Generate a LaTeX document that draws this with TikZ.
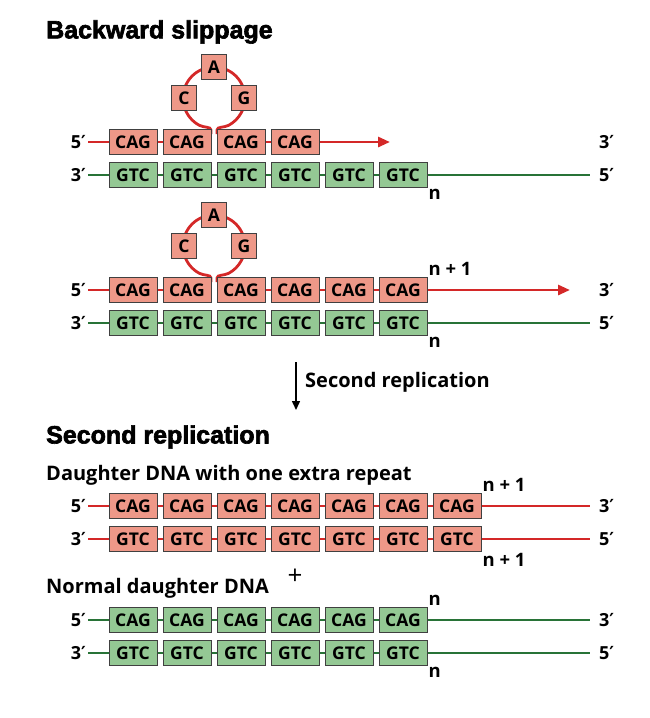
\documentclass[tikz,border=0pt]{standalone}
\usepackage{fontspec}
\setmainfont{Open Sans}
\newfontfamily\headfont{Liberation Sans Bold}[FakeBold=2.5]
\newfontfamily\primefont{DejaVu Sans}
\usetikzlibrary{positioning,backgrounds,arrows.meta}

\definecolor{cagfill}{RGB}{238,152,136}
\definecolor{gtcfill}{RGB}{148,200,148}
\definecolor{strandred}{RGB}{212,40,40}
\definecolor{strandgreen}{RGB}{40,115,55}

\newcommand{\pr}{{\primefont ′}}

\tikzset{
    repeatbox/.style={draw=black!75, line width=0.8pt, minimum width=48pt, minimum height=25pt,
        inner sep=0pt, font=\bfseries\fontsize{17.5}{17.5}\selectfont},
    cag/.style={repeatbox, fill=cagfill},
    gtc/.style={repeatbox, fill=gtcfill},
    base/.style={repeatbox, minimum width=25pt, fill=cagfill},
    redstrand/.style={draw=strandred, line width=2.8pt},
    greenstrand/.style={draw=strandgreen, line width=2.8pt},
    endlabel/.style={font=\bfseries\fontsize{18}{18}\selectfont, inner sep=2pt},
    countlabel/.style={font=\bfseries\fontsize{18.5}{18.5}\selectfont, inner sep=1pt},
    heading/.style={anchor=west, inner sep=0pt, font=\headfont\fontsize{25}{25}\selectfont},
    caption/.style={anchor=west, inner sep=0pt, font=\bfseries\fontsize{20}{20}\selectfont},
}

\begin{document}
\begin{tikzpicture}[x=1pt, y=-1pt]
    \useasboundingbox (0,0) rectangle (650,718);

    % Backward slippage, first round
    \node[heading] (title1) at (46,32) {Backward slippage};
    \foreach \i in {1,...,4}
        \node[cag] (a\i) at ({133+54*(\i-1)},142) {CAG};
    \foreach \i in {1,...,6}
        \node[gtc] (b\i) at ({133+54*(\i-1)},175) {GTC};
    \node[base] (l1c) at (184,98) {C};
    \node[base] (l1a) at (214,67) {A};
    \node[base] (l1g) at (244,98) {G};
    \coordinate (a-l) at (88,142);
    \coordinate (a-r) at (390,142);
    \coordinate (b-l) at (88,175);
    \coordinate (b-r) at (590,175);
    \node[endlabel, anchor=east] (a-five) at (a-l) {5\pr};
    \node[endlabel, anchor=west] (a-three) at (597,142) {3\pr};
    \node[endlabel, anchor=east] (b-three) at (b-l) {3\pr};
    \node[endlabel, anchor=west] (b-five) at (597,175) {5\pr};
    \node[countlabel, anchor=north west] (b-n) at (b6.south east) {n};

    % Backward slippage, second round
    \foreach \i in {1,...,6}
        \node[cag] (c\i) at ({133+54*(\i-1)},290) {CAG};
    \foreach \i in {1,...,6}
        \node[gtc] (d\i) at ({133+54*(\i-1)},323) {GTC};
    \node[base] (l2c) at (184,246) {C};
    \node[base] (l2a) at (214,215) {A};
    \node[base] (l2g) at (244,246) {G};
    \coordinate (c-l) at (88,290);
    \coordinate (c-r) at (570,290);
    \coordinate (d-l) at (88,323);
    \coordinate (d-r) at (590,323);
    \node[endlabel, anchor=east] (c-five) at (c-l) {5\pr};
    \node[endlabel, anchor=west] (c-three) at (597,290) {3\pr};
    \node[endlabel, anchor=east] (d-three) at (d-l) {3\pr};
    \node[endlabel, anchor=west] (d-five) at (597,323) {5\pr};
    \node[countlabel, anchor=south west] (c-n) at (c6.north east) {n + 1};
    \node[countlabel, anchor=north west] (d-n) at (d6.south east) {n};

    % arrow to the next replication
    \node[anchor=west, inner sep=0pt, font=\bfseries\fontsize{20}{20}\selectfont] (step2) at (305,382) {Second replication};
    \coordinate (m-top) at (296,362);
    \coordinate (m-bot) at (296,410);
    \draw[line width=1.5pt, -{Triangle[length=9pt,width=8pt]}] (m-top) -- (m-bot);

    % Second replication
    \node[heading] (title2) at (46,437) {Second replication};
    \node[caption] (extra) at (46,475) {Daughter DNA with one extra repeat};
    \foreach \i in {1,...,7}
        \node[cag] (e\i) at ({133+54*(\i-1)},506) {CAG};
    \foreach \i in {1,...,7}
        \node[gtc, fill=cagfill] (f\i) at ({133+54*(\i-1)},539) {GTC};
    \coordinate (e-l) at (88,506);
    \coordinate (e-r) at (590,506);
    \coordinate (f-l) at (88,539);
    \coordinate (f-r) at (590,539);
    \node[endlabel, anchor=east] (e-five) at (e-l) {5\pr};
    \node[endlabel, anchor=west] (e-three) at (597,506) {3\pr};
    \node[endlabel, anchor=east] (f-three) at (f-l) {3\pr};
    \node[endlabel, anchor=west] (f-five) at (597,539) {5\pr};
    \node[countlabel, anchor=south west] (e-n) at (e7.north east) {n + 1};
    \node[countlabel, anchor=north west] (f-n) at (f7.south east) {n + 1};

    \node[font=\fontsize{26}{26}\selectfont, inner sep=0pt] (plus) at (295,577) {+};
    \node[caption] (normal) at (46,588) {Normal daughter DNA};
    \foreach \i in {1,...,6}
        \node[cag, fill=gtcfill] (g\i) at ({133+54*(\i-1)},620) {CAG};
    \foreach \i in {1,...,6}
        \node[gtc] (h\i) at ({133+54*(\i-1)},653) {GTC};
    \coordinate (g-l) at (88,620);
    \coordinate (g-r) at (590,620);
    \coordinate (h-l) at (88,653);
    \coordinate (h-r) at (590,653);
    \node[endlabel, anchor=east] (g-five) at (g-l) {5\pr};
    \node[endlabel, anchor=west] (g-three) at (597,620) {3\pr};
    \node[endlabel, anchor=east] (h-three) at (h-l) {3\pr};
    \node[endlabel, anchor=west] (h-five) at (597,653) {5\pr};
    \node[countlabel, anchor=south west] (g-n) at (g6.north east) {n};
    \node[countlabel, anchor=north west] (h-n) at (h6.south east) {n};

    % strands behind the repeats
    \begin{scope}[on background layer]
        \draw[redstrand] (a-l) -- (a2.center);
        \draw[redstrand, -{Triangle[length=12pt,width=10pt]}] (a3.center) -- (a-r);
        \draw[greenstrand] (b-l) -- (b-r);
        \draw[redstrand] (c-l) -- (c2.center);
        \draw[redstrand, -{Triangle[length=12pt,width=10pt]}] (c3.center) -- (c-r);
        \draw[greenstrand] (d-l) -- (d-r);
        \draw[redstrand] (e-l) -- (e-r);
        \draw[redstrand] (f-l) -- (f-r);
        \draw[greenstrand] (g-l) -- (g-r);
        \draw[greenstrand] (h-l) -- (h-r);
        % looped-out repeats
        \foreach \dy in {0,148}
            \draw[redstrand] (211,134+\dy) -- (211,130+\dy)
                .. controls (211,126.5+\dy) and (204,127.7+\dy) .. (199.45,125.37+\dy)
                arc[start angle=118, end angle=422, radius=31]
                .. controls (224,127.7+\dy) and (217,126.5+\dy) .. (217,130+\dy) -- (217,134+\dy);
    \end{scope}
\end{tikzpicture}
\end{document}
